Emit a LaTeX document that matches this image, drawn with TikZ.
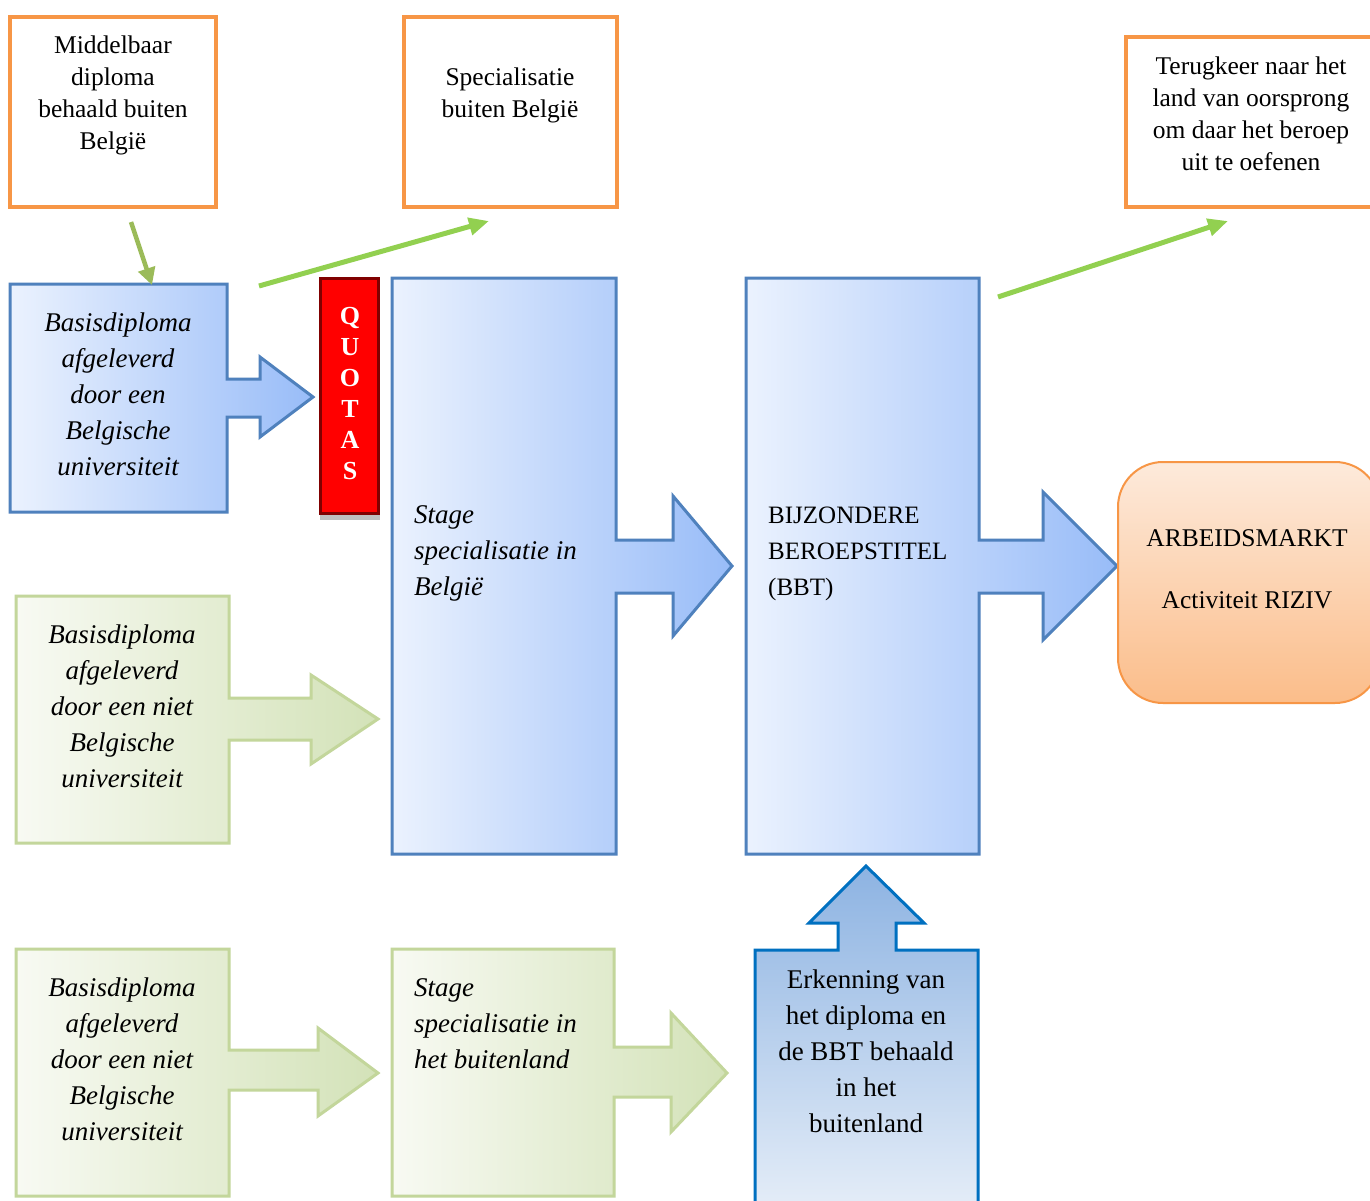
\documentclass[tikz,border=0pt]{standalone}
\usepackage{fontspec}
\setmainfont{Liberation Serif}
\usetikzlibrary{arrows.meta}
\definecolor{bluebd}{HTML}{4F81BD}
\definecolor{blueL}{HTML}{EBF2FE}
\definecolor{blueR}{HTML}{98BCF8}
\definecolor{greenbd}{HTML}{C3D69B}
\definecolor{greenL}{HTML}{F8FAF3}
\definecolor{greenR}{HTML}{D3E2B8}
\definecolor{orangebd}{HTML}{F79646}
\definecolor{orangeT}{HTML}{FDEADB}
\definecolor{orangeB}{HTML}{FBBD8A}
\definecolor{quotared}{HTML}{FF0000}
\definecolor{quotabd}{HTML}{800000}
\definecolor{upbd}{HTML}{0070C0}
\definecolor{upT}{HTML}{8DB3E2}
\definecolor{upB}{HTML}{E6EEF8}
\definecolor{arrowA}{HTML}{9BBB59}
\definecolor{arrowB}{HTML}{92D050}
\begin{document}
\begin{tikzpicture}[x=1pt,y=-1pt,
  obox/.style={draw=orangebd, line width=4pt, fill=white, inner sep=0pt},
  bluecall/.style={draw=bluebd, line width=3pt, left color=blueL, right color=blueR, line join=miter},
  greencall/.style={draw=greenbd, line width=3pt, left color=greenL, right color=greenR, line join=miter},
  uptxt/.style={font=\fontsize{25.5}{32}\selectfont, align=center, inner sep=0pt},
  ittxt/.style={font=\fontsize{27}{36}\selectfont\itshape, align=center, inner sep=0pt},
  itleft/.style={font=\fontsize{27}{36}\selectfont\itshape, align=left, inner sep=0pt, anchor=west},
  garrow/.style={line width=5pt, draw=arrowB, -{Triangle[length=20pt,width=17pt]}},
]
\clip (0,0) rectangle (1370,1201);
\fill[white] (0,0) rectangle (1370,1201);

% top orange boxes
\draw[obox] (10,17) rectangle (216,207);
\node[uptxt] (middel) at (113,95) {Middelbaar\\diploma\\behaald buiten\\België};
\draw[obox] (404,17) rectangle (617,207);
\node[uptxt] (spec) at (510,95) {Specialisatie\\buiten België};
\draw[obox] (1126,37) rectangle (1380,207);
\node[uptxt] (terug) at (1251,114) {Terugkeer naar het\\land van oorsprong\\om daar het beroep\\uit te oefenen};

% blue callout 1
\path[bluecall] (10,284) -- (227,284) -- (227,379) -- (260,379) -- (260,357) -- (313,397)
  -- (260,437) -- (260,417) -- (227,417) -- (227,512) -- (10,512) -- cycle;
\node[ittxt] (basis1) at (118,394) {Basisdiploma\\afgeleverd\\door een\\Belgische\\universiteit};

% quotas
\fill[black!25] (320,295) rectangle (380,520);
\node[draw=quotabd, fill=quotared, line width=3pt, minimum width=58pt, minimum height=235pt, inner sep=0pt] (quota) at (349,395.5) {};
\node[font=\fontsize{26}{31}\selectfont\bfseries, text=white, align=center, inner sep=0pt] (quotatxt) at (350,394) {Q\\U\\O\\T\\A\\S};

% stage callout
\path[bluecall] (392,278) -- (616,278) -- (616,540) -- (673,540) -- (673,496) -- (732,566)
  -- (673,636) -- (673,593) -- (616,593) -- (616,854) -- (392,854) -- cycle;
\node[itleft] (stage) at (414,553) {Stage\\specialisatie in\\België};

% BBT callout
\path[bluecall] (746,278) -- (979,278) -- (979,540) -- (1043,540) -- (1043,492) -- (1117,566)
  -- (1043,640) -- (1043,593) -- (979,593) -- (979,854) -- (746,854) -- cycle;
\node[font=\fontsize{25}{36}\selectfont, align=left, inner sep=0pt, anchor=west] (bbt) at (768,554) {BIJZONDERE\\BEROEPSTITEL\\(BBT)};

% arbeidsmarkt
\node[draw=orangebd, line width=2pt, rounded corners=45pt, top color=orangeT, bottom color=orangeB,
  minimum width=262pt, minimum height=241pt, inner sep=0pt] (arbeid) at (1249,582.5) {};
\node[font=\fontsize{25.5}{32}\selectfont, inner sep=0pt] (arbtxt) at (1247,538) {ARBEIDSMARKT};
\node[font=\fontsize{25.5}{32}\selectfont, inner sep=0pt] (riziv) at (1247,600) {Activiteit RIZIV};

% green callout 1
\path[greencall] (16,596) -- (229,596) -- (229,698) -- (311,698) -- (311,675) -- (378,719)
  -- (311,764) -- (311,740) -- (229,740) -- (229,843) -- (16,843) -- cycle;
\node[ittxt] (basis2) at (122,706) {Basisdiploma\\afgeleverd\\door een niet\\Belgische\\universiteit};

% green callout 2
\path[greencall] (16,949) -- (229,949) -- (229,1050) -- (318,1050) -- (318,1028) -- (378,1073)
  -- (318,1116) -- (318,1090) -- (229,1090) -- (229,1196) -- (16,1196) -- cycle;
\node[ittxt] (basis3) at (122,1059) {Basisdiploma\\afgeleverd\\door een niet\\Belgische\\universiteit};

% green callout 3
\path[greencall] (392,949) -- (614,949) -- (614,1047) -- (671,1047) -- (671,1013) -- (727,1073)
  -- (671,1132) -- (671,1097) -- (614,1097) -- (614,1196) -- (392,1196) -- cycle;
\node[itleft] (stage2) at (414,1024) {Stage\\specialisatie in\\het buitenland};

% up callout
\path[draw=upbd, line width=3pt, top color=upT, bottom color=upB, line join=miter]
  (755,1215) -- (755,950) -- (838,950) -- (838,923) -- (809,923) -- (866,866) -- (924,923)
  -- (896,923) -- (896,950) -- (978,950) -- (978,1215) -- cycle;
\node[font=\fontsize{27}{36}\selectfont, align=center, inner sep=0pt] (erk) at (866,1051) {Erkenning van\\het diploma en\\de BBT behaald\\in het\\buitenland};

% green arrows
\coordinate (a1s) at (131,222);
\coordinate (a1e) at (152,285);
\coordinate (a2s) at (259,286);
\coordinate (a2e) at (489,221);
\coordinate (a3s) at (998,297);
\coordinate (a3e) at (1228,221);
\draw[line width=4.5pt, draw=arrowA, -{Triangle[length=17pt,width=17pt]}] (a1s) -- (a1e);
\draw[garrow] (a2s) -- (a2e);
\draw[garrow] (a3s) -- (a3e);
\end{tikzpicture}
\end{document}
